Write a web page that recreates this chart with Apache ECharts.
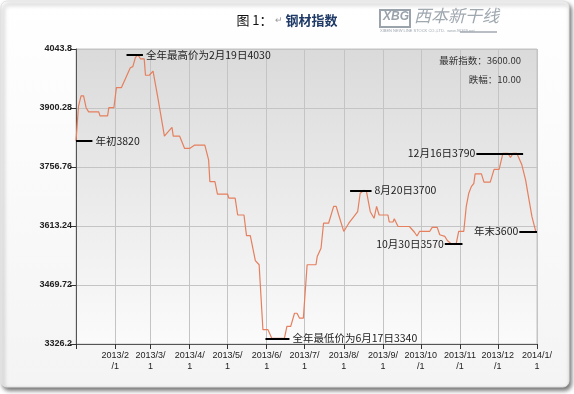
<!DOCTYPE html>
<html>
<head>
<meta charset="utf-8">
<script src="https://cdn.jsdelivr.net/npm/echarts@6/dist/echarts.min.js"></script>
<style>
html,body{margin:0;padding:0;background:#fff;}
#c{width:574px;height:394px;}
</style>
</head>
<body>
<div id="c"></div>
<script>
// ---- data ----
var dates = ['2013-01-01','2013-01-03','2013-01-05','2013-01-07','2013-01-09','2013-01-11','2013-01-19','2013-01-20','2013-01-26','2013-01-27','2013-01-31',
 '2013-02-02','2013-02-06','2013-02-13','2013-02-15','2013-02-17','2013-02-19','2013-02-21','2013-02-24','2013-02-25','2013-02-28',
 '2013-03-03','2013-03-07','2013-03-12','2013-03-14','2013-03-18','2013-03-19','2013-03-24','2013-03-28',
 '2013-04-01','2013-04-05','2013-04-13','2013-04-16','2013-04-17','2013-04-21','2013-04-23',
 '2013-05-01','2013-05-02','2013-05-07','2013-05-09','2013-05-14','2013-05-16','2013-05-19','2013-05-23','2013-05-26','2013-05-29',
 '2013-06-02','2013-06-05','2013-06-15','2013-06-17','2013-06-20','2013-06-23','2013-06-25','2013-06-27','2013-06-30',
 '2013-07-03','2013-07-10','2013-07-11','2013-07-14','2013-07-16','2013-07-20','2013-07-24','2013-07-26','2013-07-28',
 '2013-08-01','2013-08-05','2013-08-09','2013-08-12','2013-08-14','2013-08-17','2013-08-19','2013-08-22','2013-08-25','2013-08-27','2013-08-29',
 '2013-09-05','2013-09-06','2013-09-09','2013-09-10','2013-09-13','2013-09-22','2013-09-23','2013-09-26','2013-09-28','2013-09-30',
 '2013-10-08','2013-10-10','2013-10-14','2013-10-16','2013-10-20','2013-10-22','2013-10-25','2013-10-29','2013-10-31',
 '2013-11-04','2013-11-06','2013-11-08','2013-11-10','2013-11-12','2013-11-13','2013-11-18','2013-11-20','2013-11-25','2013-11-28',
 '2013-12-02','2013-12-05','2013-12-09','2013-12-11','2013-12-13','2013-12-16','2013-12-20','2013-12-23','2013-12-25','2013-12-28','2013-12-31'];
var values = [3820,3905,3930,3930,3901,3891,3891,3881,3881,3901,3901,
 3950,3950,3998,4001,4023,4030,4020,4020,3980,3980,
 3990,3922,3832,3839,3853,3832,3832,3802,
 3802,3810,3810,3774,3721,3721,3691,
 3691,3681,3681,3640,3640,3590,3590,3529,3519,3361,
 3361,3340,3340,3369,3369,3401,3401,3389,3389,
 3519,3519,3539,3559,3620,3620,3661,3661,3640,
 3600,3620,3636,3648,3693,3700,3697,3648,3632,3661,3640,
 3640,3623,3623,3631,3612,3612,3608,3598,3589,3600,
 3600,3610,3610,3592,3588,3578,3570,3570,3600,
 3600,3661,3693,3709,3717,3740,3740,3720,3720,3751,
 3751,3790,3790,3780,3790,3790,3762,3725,3689,3636,3600];

var yTicksMin = 3326.2, yTicksMax = 4043.8, yTickStep = 143.52;
var xTickLabels = ['2013/2\n/1','2013/3/\n1','2013/4/\n1','2013/5/\n1','2013/6/\n1','2013/7/\n1','2013/8/\n1','2013/9/\n1','2013/10\n/1','2013/11\n/1','2013/12\n/1','2014/1/\n1'];

// annotations
var annFrom  = ['2013-01-01','2013-02-10','2013-05-31','2013-08-06','2013-10-20','2013-11-14','2013-12-18'];
var annTo    = ['2013-01-14','2013-02-23','2013-06-19','2013-08-23','2013-11-03','2013-12-21','2014-01-01'];
var annValue = [3820,4030,3340,3700,3570,3790,3600];
var annText  = ['年初3820','全年最高价为2月19日4030','全年最低价为6月17日3340','8月20日3700','10月30日3570','12月16日3790','年末3600'];
var annSide  = ['end','end','end','end','start','start','start'];

var infoLines = ['最新指数：3600.00','跌幅：10.00'];

// ---- chart ----
var chart = echarts.init(document.getElementById('c'), null, {renderer:'canvas'});
var seriesData = dates.map(function(d,i){return [d, values[i]];});
var mlData = annValue.map(function(v,i){
  return [
    {coord:[annFrom[i], v], label:{show:true, position: annSide[i], formatter: annText[i], distance: annSide[i]==='end'?3:1}},
    {coord:[annTo[i], v]}
  ];
});

var option = {
  animation:false,
  backgroundColor:'#ffffff',
  graphic:[
    {type:'rect', z:-10, shape:{x:1,y:1,width:568,height:386,r:6},
     style:{fill:{type:'linear',x:0,y:0,x2:0,y2:1,colorStops:[{offset:0,color:'#ffffff'},{offset:1,color:'#f4f4f4'}]},
            stroke:'#e2e2e2',lineWidth:1,shadowBlur:4,shadowOffsetX:2,shadowOffsetY:3,shadowColor:'rgba(0,0,0,0.55)'}},
    {type:'text', left:'center', top:14, z:10,
     style:{text:'{a|图 1：}{b| ↵ }{c|钢材指数}',
       rich:{a:{fontSize:13,fontFamily:'Noto Sans CJK SC',fill:'#111'},
             b:{fontSize:9,fill:'#999'},
             c:{fontSize:13,fontWeight:'bold',fontFamily:'Noto Sans CJK SC',fill:'#1f3a66'}}}},
    {type:'rect', shape:{x:380,y:10,width:30,height:17}, style:{fill:'none',stroke:'#9aa3ac',lineWidth:2}},
    {type:'text', x:383, y:11, style:{text:'XBG',fontSize:12,fontWeight:'bold',fontStyle:'italic',fill:'#9aa3ac',fontFamily:'Liberation Sans'}},
    {type:'text', x:414, y:7, style:{text:'西本新干线',fontSize:17,fontStyle:'italic',fontFamily:'Noto Sans CJK SC',fill:'#a0a8b0'}},
    {type:'line', shape:{x1:460,y1:32,x2:497,y2:32}, style:{stroke:'#a0a8b0',lineWidth:1.5}},
    {type:'text', x:380, y:29, style:{text:'XIBEN NEW LINE STOCK CO.,LTD.  www.96369.net',fontSize:4,fill:'#a0a8b0'}},
    {type:'text', right:53, top:56, z:10, style:{text:infoLines[0],fontSize:9.5,fontFamily:'Noto Sans CJK SC',fill:'#333',align:'right'}},
    {type:'text', right:53, top:75, z:10, style:{text:infoLines[1],fontSize:9.5,fontFamily:'Noto Sans CJK SC',fill:'#333',align:'right'}}
  ],
  grid:{left:76,right:37,top:49,bottom:50,show:true,borderColor:'#c4c4c4',borderWidth:1,
    backgroundColor:{type:'linear',x:0,y:0,x2:0,y2:1,colorStops:[{offset:0,color:'#dadada'},{offset:1,color:'#fbfbfb'}]}},
  xAxis:{
    type:'time', min:'2013-01-01', max:'2014-01-01', splitNumber:12,
    axisLine:{show:true,lineStyle:{color:'#555',width:1}},
    axisTick:{show:true,length:5,lineStyle:{color:'#333'}},
    minorTick:{show:false},
    splitLine:{show:true,lineStyle:{color:'#c4c4c4',width:1}},
    axisLabel:{
      showMinLabel:false, showMaxLabel:true, hideOverlap:false, color:'#222', fontSize:9, fontFamily:'Liberation Sans', lineHeight:11, margin:6,
      formatter:function(val){
        var d=new Date(val);
        var idx=(d.getFullYear()-2013)*12+d.getMonth();
        if(idx<1||idx>12) return '';
        return xTickLabels[idx-1];
      }
    }
  },
  yAxis:{
    type:'value', min:yTicksMin, max:yTicksMax, interval:yTickStep,
    axisLine:{show:true,lineStyle:{color:'#555',width:1}},
    axisTick:{show:true,length:6,lineStyle:{color:'#333'}},
    splitLine:{show:true,lineStyle:{color:'#c4c4c4',width:1}},
    axisLabel:{color:'#222',fontSize:9,fontFamily:'Liberation Sans',fontWeight:'bold',margin:4,
      formatter:function(v){return String(Number(v.toFixed(2)));}}
  },
  series:[{
    type:'line', data:seriesData, showSymbol:false, symbol:'none',
    lineStyle:{color:'#e57f5e',width:1.2},
    clip:false,
    markLine:{
      silent:true, symbol:['none','none'], animation:false,
      lineStyle:{color:'#000',width:2,type:'solid'},
      label:{color:'#222',fontSize:10.5,fontFamily:'Noto Sans CJK SC'},
      data:mlData
    }
  }]
};
chart.setOption(option);
</script>
</body>
</html>
